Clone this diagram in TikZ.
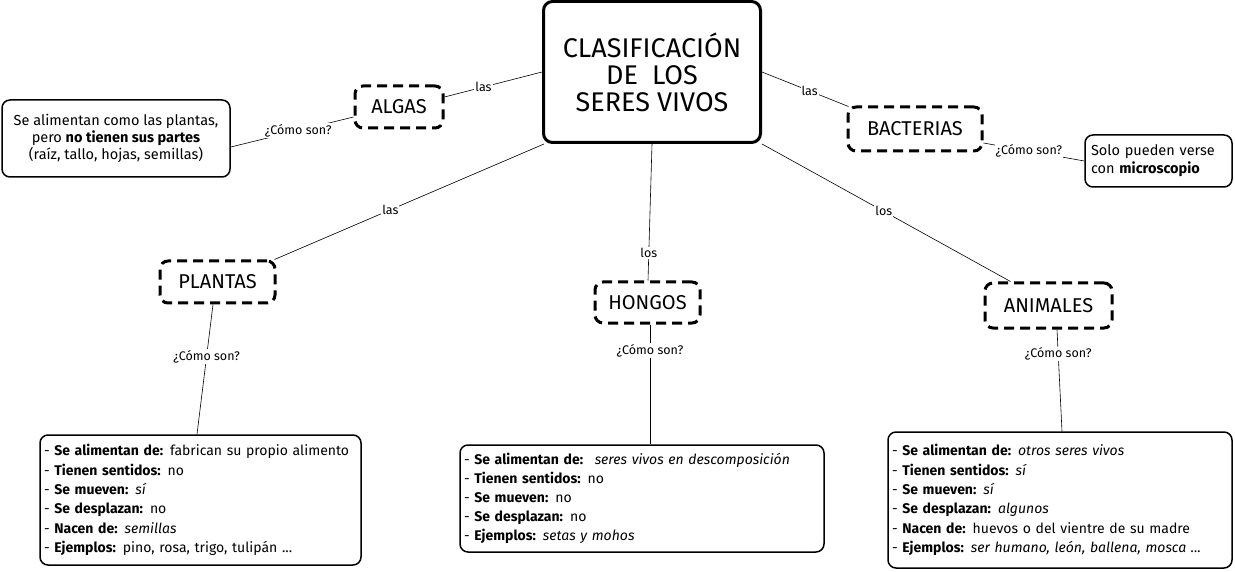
\documentclass[tikz,border=0pt]{standalone}
\usepackage{fontspec}
\setmainfont{Fira Sans}
\begin{document}
\begin{tikzpicture}[x=1pt,y=-1pt,
  mainbox/.style={draw, line width=3pt, rounded corners=9pt, minimum width=217pt, minimum height=141pt, inner sep=0pt, align=center, font=\fontsize{27}{27}\selectfont},
  catbox/.style={draw, line width=3pt, dash pattern=on 10pt off 6pt, rounded corners=8pt, inner sep=0pt, font=\fontsize{20}{20}\selectfont},
  infobox/.style={draw, line width=1.5pt, rounded corners=8pt, inner sep=0pt},
  lbl/.style={fill=white, inner sep=1pt, font=\fontsize{12.5}{13}\selectfont},
  conn/.style={line width=0.6pt}
]
\useasboundingbox (0,0) rectangle (1235,572);

\node[mainbox] (central) at (652,72) {CLASIFICACIÓN\\DE~~LOS\\SERES VIVOS};

\node[catbox, minimum width=88pt, minimum height=42pt] (algas) at (399,107) {ALGAS};
\node[catbox, minimum width=134pt, minimum height=44pt] (bacterias) at (915,129) {BACTERIAS};
\node[catbox, minimum width=115pt, minimum height=42pt] (plantas) at (217.5,282) {PLANTAS};
\node[catbox, minimum width=105pt, minimum height=41pt] (hongos) at (647.5,302.5) {HONGOS};
\node[catbox, minimum width=127pt, minimum height=45pt] (animales) at (1048.5,305.5) {ANIMALES};

\node[infobox, minimum width=228pt, minimum height=77pt, align=center, font=\fontsize{14.5}{17}\selectfont] (algasinfo) at (116,138.5)
  {Se alimentan como las plantas,\\pero \textbf{no tienen sus partes}\\(raíz, tallo, hojas, semillas)};

\node[infobox, minimum width=147pt, minimum height=52pt, text width=135pt, align=left, inner xsep=6pt, font=\fontsize{14.5}{18}\selectfont] (bactinfo) at (1158.5,161)
  {Solo pueden verse\\con \textbf{microscopio}};

\node[infobox, text width=313pt, inner xsep=4pt, minimum height=130pt, align=left, font=\fontsize{14}{19.3}\selectfont] (plantinfo) at (200.5,500)
  {- \textbf{Se alimentan de:} fabrican su propio alimento\\
   - \textbf{Tienen sentidos:} no\\
   - \textbf{Se mueven:} \textit{sí}\\
   - \textbf{Se desplazan:} no\\
   - \textbf{Nacen de:} \textit{semillas}\\
   - \textbf{Ejemplos:} pino, rosa, trigo, tulipán ...};

\node[infobox, text width=356pt, inner xsep=4pt, minimum height=107pt, align=left, font=\fontsize{14}{19}\selectfont] (hongoinfo) at (642,498.5)
  {- \textbf{Se alimentan de:}~ \textit{seres vivos en descomposición}\\
   - \textbf{Tienen sentidos:} no\\
   - \textbf{Se mueven:} no\\
   - \textbf{Se desplazan:} no\\
   - \textbf{Ejemplos:} \textit{setas y mohos}};

\node[infobox, text width=336pt, inner xsep=4pt, minimum height=136pt, align=left, font=\fontsize{14}{19.3}\selectfont] (animinfo) at (1060,500)
  {- \textbf{Se alimentan de:} \textit{otros seres vivos}\\
   - \textbf{Tienen sentidos:} \textit{sí}\\
   - \textbf{Se mueven:} \textit{sí}\\
   - \textbf{Se desplazan:} \textit{algunos}\\
   - \textbf{Nacen de:} huevos o del vientre de su madre\\
   - \textbf{Ejemplos:} \textit{ser humano, león, ballena, mosca ...}};

% connectors
\draw[conn] ([yshift=10pt]algas.east) -- node[lbl, pos=0.4] {las} (central.west);
\draw[conn] (central.east) -- node[lbl, pos=0.55] {las} ([xshift=2pt,yshift=-1pt]bacterias.north west);
\draw[conn] ([yshift=-8.5pt]algasinfo.east) -- node[lbl, pos=0.55] {¿Cómo son?} ([yshift=-10pt]algas.west);
\draw[conn] ([yshift=-14pt]bacterias.east) -- node[lbl, pos=0.45] {¿Cómo son?} (bactinfo.west);
\draw[conn] ([xshift=2pt]central.south west) -- node[lbl, pos=0.57] {las} ([xshift=-2pt]plantas.north east);
\draw[conn] (central.south) -- node[lbl, pos=0.8] {los} ([xshift=0.5pt]hongos.north);
\draw[conn] (central.south east) -- node[lbl, pos=0.49] {los} ([xshift=-38pt]animales.north);
\draw[conn] ([xshift=-4.5pt]plantas.south) -- node[lbl, pos=0.4] {¿Cómo son?} ([xshift=-3.5pt]plantinfo.north);
\draw[conn] ([xshift=2.5pt]hongos.south) -- node[lbl, pos=0.22] {¿Cómo son?} ([xshift=8pt]hongoinfo.north);
\draw[conn] ([xshift=8.5pt]animales.south) -- node[lbl, pos=0.24] {¿Cómo son?} ([xshift=2pt]animinfo.north);
\end{tikzpicture}
\end{document}
